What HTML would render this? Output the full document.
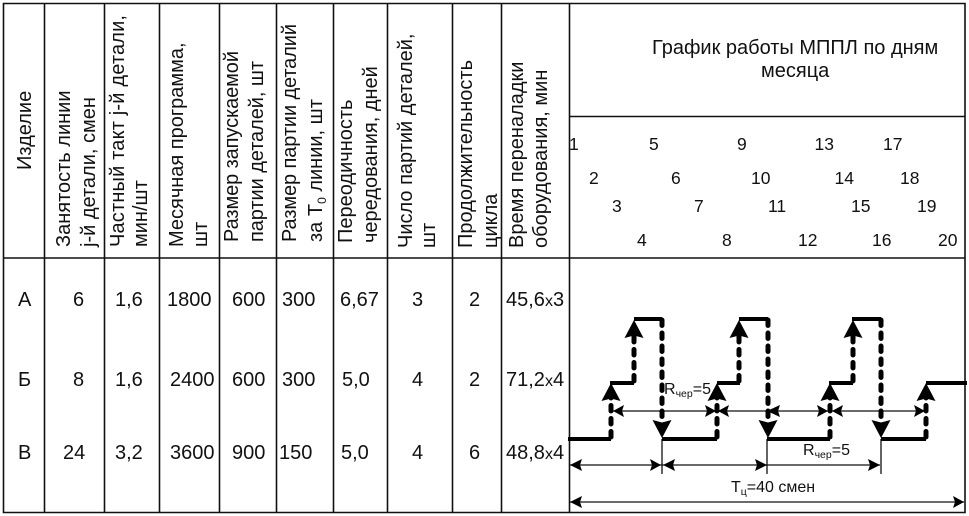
<!DOCTYPE html>
<html><head><meta charset="utf-8"><style>
html,body{margin:0;padding:0;background:#fff;width:969px;height:516px;overflow:hidden}
svg{display:block}
text{font-family:"Liberation Sans",sans-serif;fill:#111}
.h{font-size:20px}
.d{font-size:20px}
.n{font-size:17.5px}
.l{font-size:16px}
.x{font-size:16px}
.s{font-size:10.5px}
.t{stroke:#111;stroke-width:1.6;fill:none}
.k{stroke:#000;stroke-width:4;fill:none}
.o{stroke:#000;stroke-width:5;fill:none;stroke-linecap:round;stroke-dasharray:5.5 7.5}
.f{stroke:#111;stroke-width:1.3;fill:none}
.a{fill:#000}
</style></head><body>
<svg width="969" height="516" viewBox="0 0 969 516" xmlns="http://www.w3.org/2000/svg">
<rect width="969" height="516" fill="#fff"/>
<path class="t" d="M3.5 3.5H965V512.5H3.5Z M3.5 258H965 M570 116.5H965 M44.5 3.5V512.5 M104.5 3.5V512.5 M159.5 3.5V512.5 M219.5 3.5V512.5 M276.5 3.5V512.5 M333.5 3.5V512.5 M387.5 3.5V512.5 M452.5 3.5V512.5 M501.5 3.5V512.5 M569.5 3.5V512.5"/>

<g class="h">
<text transform="translate(31,170) rotate(-90)">Изделие</text>
<text transform="translate(70,247) rotate(-90)">Занятость линии</text>
<text transform="translate(95,247) rotate(-90)">j-й детали, смен</text>
<text transform="translate(124,247) rotate(-90)" textLength="232">Частный такт j-й детали,</text>
<text transform="translate(147,247) rotate(-90)">мин/шт</text>
<text transform="translate(183,247) rotate(-90)">Месячная программа,</text>
<text transform="translate(207,247) rotate(-90)">шт</text>
<text transform="translate(238,242) rotate(-90)" textLength="191">Размер запускаемой</text>
<text transform="translate(263,242) rotate(-90)" textLength="181">партии деталей, шт</text>
<text transform="translate(296,242) rotate(-90)" textLength="218">Размер партии деталий</text>
<text transform="translate(322,242) rotate(-90)">за Т<tspan style="font-size:12px" dy="4">0</tspan><tspan dy="-4"> линии, шт</tspan></text>
<text transform="translate(352,243) rotate(-90)">Переодичность</text>
<text transform="translate(377,243) rotate(-90)">чередования, дней</text>
<text transform="translate(412,248) rotate(-90)">Число партий деталей,</text>
<text transform="translate(435,248) rotate(-90)">шт</text>
<text transform="translate(472,248) rotate(-90)">Продолжительность</text>
<text transform="translate(497,248) rotate(-90)">цикла</text>
<text transform="translate(523,248) rotate(-90)">Время переналадки</text>
<text transform="translate(547,248) rotate(-90)">оборудования, мин</text>
<text x="652" y="54">График работы МППЛ по дням</text>
<text x="761" y="77">месяца</text>
</g>

<g class="n">
<text x="569" y="150">1</text><text x="649" y="150">5</text><text x="737" y="150">9</text><text x="814.500" y="150">13</text><text x="883" y="150">17</text>
<text x="589" y="184">2</text><text x="671" y="184">6</text><text x="751" y="184">10</text><text x="834.500" y="184">14</text><text x="900" y="184">18</text>
<text x="612" y="212">3</text><text x="694" y="212">7</text><text x="768" y="212">11</text><text x="851" y="212">15</text><text x="917" y="212">19</text>
<text x="637" y="246">4</text><text x="722" y="246">8</text><text x="798" y="246">12</text><text x="872" y="246">16</text><text x="938" y="246">20</text>
</g>

<g class="d">
<text x="18" y="306">А</text><text x="73" y="306">6</text><text x="115" y="306">1,6</text><text x="167" y="306">1800</text><text x="232" y="306">600</text><text x="282" y="306">300</text><text x="340" y="306">6,67</text><text x="412" y="306">3</text><text x="469" y="306">2</text><text x="506" y="306">45,6<tspan style="font-size:16px">x</tspan>3</text>
<text x="18" y="386">Б</text><text x="73" y="386">8</text><text x="115" y="386">1,6</text><text x="170" y="386">2400</text><text x="232" y="386">600</text><text x="282" y="386">300</text><text x="342" y="386">5,0</text><text x="412" y="386">4</text><text x="469" y="386">2</text><text x="506" y="386">71,2<tspan style="font-size:16px">x</tspan>4</text>
<text x="18" y="459">В</text><text x="63" y="459">24</text><text x="115" y="459">3,2</text><text x="170" y="459">3600</text><text x="232" y="459">900</text><text x="279" y="459">150</text><text x="341" y="459">5,0</text><text x="412" y="459">4</text><text x="469" y="459">6</text><text x="506" y="459">48,8<tspan style="font-size:16px">x</tspan>4</text>
</g>

<!-- thin lines -->
<path class="f" d="M612 411H926 M570 465H880 M570 502H964 M662 439V474 M767 439V474 M881 439V474"/>

<!-- dashed -->
<path class="o" d="M611 437V396 M634 381V333 M662 320V424 M717 437V396 M739 381V333 M768 320V424 M830 437V396 M853 381V333 M881 320V424 M926 437V396"/>

<!-- thick -->
<path class="k" d="M568 439H611 M610 383H634 M634 319H662 M662 439H717 M717 383H740 M739 319H768 M767 439H830 M829 383H853 M852 319H881 M881 439H926 M926 383H967"/>

<!-- vertical heads (classic, slightly notched) -->
<g class="a">
<path d="M611 383L601.500 401L611 398.500L620.500 401Z M634 320L624.500 338L634 335.500L643.500 338Z M717 383L707.500 401L717 398.500L726.500 401Z M739 320L729.500 338L739 335.500L748.500 338Z M830 383L820.500 401L830 398.500L839.500 401Z M853 320L843.500 338L853 335.500L862.500 338Z M926 383L916.500 401L926 398.500L935.500 401Z"/>
<path d="M662 438L652.500 420L662 422.500L671.500 420Z M768 438L758.500 420L768 422.500L777.500 420Z M881 438L871.500 420L881 422.500L890.500 420Z"/>
<!-- y=411 heads -->
<path d="M613 411L624 405L622 411L624 417Z M716 411L705 405L707 411L705 417Z M718 411L729 405L727 411L729 417Z M767 411L780 405L778 411L780 417Z M828 411L817 405L819 411L817 417Z M832 411L843 405L841 411L843 417Z M925 411L914 405L916 411L914 417Z"/>
<!-- y=465 heads -->
<path d="M570 465L582 459L580 465L582 471Z M661 465L650 459L652 465L650 471Z M663 465L675 459L673 465L675 471Z M767 465L755 459L757 465L755 471Z M880 465L868 459L870 465L868 471Z"/>
<!-- y=502 heads -->
<path d="M570 502L582 496L580 502L582 508Z M964 502L953 496L955 502L953 508Z"/>
</g>

<text class="l" x="664" y="394">R<tspan class="s" dy="3">чер</tspan><tspan dy="-3">=5</tspan></text>
<text class="l" x="803" y="455">R<tspan class="s" dy="3">чер</tspan><tspan dy="-3">=5</tspan></text>
<text class="x" x="731" y="492">Т<tspan class="s" dy="3">ц</tspan><tspan dy="-3">=40 смен</tspan></text>
</svg>
</body></html>
